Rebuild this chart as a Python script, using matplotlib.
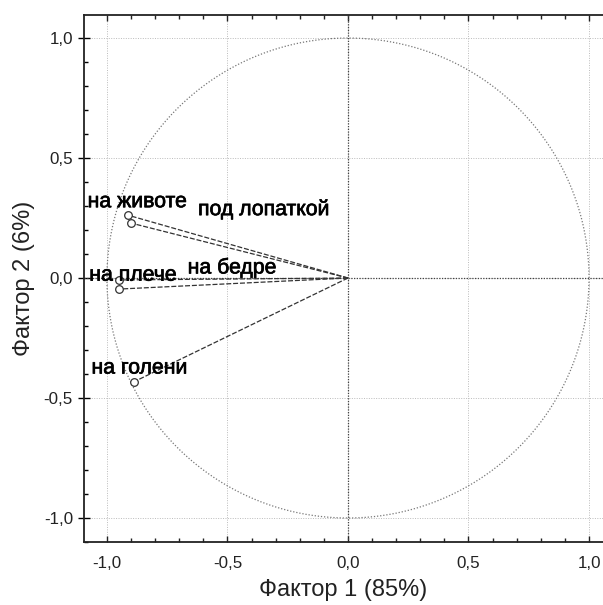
import numpy as np
import matplotlib
matplotlib.use('Agg')
import matplotlib.pyplot as plt
import matplotlib.patheffects as pe
from matplotlib.ticker import MultipleLocator, FuncFormatter

plt.rcParams['font.family'] = ['Liberation Sans', 'DejaVu Sans']

# factor loadings (factor 1, factor 2)
labels = ['на животе', 'под лопаткой', 'на плече', 'на бедре', 'на голени']
f1 = [-0.913, -0.900, -0.949, -0.949, -0.887]
f2 = [0.262, 0.229, -0.008, -0.046, -0.432]
# label anchor positions (left edge, centre) in data units
lab_x = [-1.08, -0.622, -1.073, -0.665, -1.064]
lab_y = [0.318, 0.285, 0.012, 0.042, -0.375]

fig = plt.figure(figsize=(6.03, 6.05), dpi=100)
ax = fig.add_axes([84 / 603, 1 - 542 / 605, 1 - 84 / 603, (542 - 15) / 605])

ax.set_xlim(-1.095, 1.058)
ax.set_ylim(-1.1, 1.096)

# unit circle
t = np.linspace(0, 2 * np.pi, 400)
ax.plot(np.cos(t), np.sin(t), color='#777777', lw=0.9, ls=(0, (1, 1.5)))

# zero lines
ax.axhline(0, color='#444444', lw=0.9, ls=(0, (1, 1.2)))
ax.axvline(0, color='#444444', lw=0.9, ls=(0, (1, 1.2)))

# vectors
for x, y in zip(f1, f2):
    ax.plot([0, x], [0, y], color='#333333', lw=0.9, ls=(0, (4, 1.5)))
ax.plot(f1, f2, 'o', ms=5.5, mfc='white', mec='#333333', mew=0.9, ls='none')

for s, x, y in zip(labels, lab_x, lab_y):
    ax.text(x, y, s, fontsize=15.3, ha='left', va='center', color='black',
            path_effects=[pe.withStroke(linewidth=0.5, foreground='black')])

ax.xaxis.set_major_locator(MultipleLocator(0.5))
ax.yaxis.set_major_locator(MultipleLocator(0.5))
ax.xaxis.set_minor_locator(MultipleLocator(0.1))
ax.yaxis.set_minor_locator(MultipleLocator(0.1))
fmt = FuncFormatter(lambda v, p: f'{v:.1f}'.replace('.', ',').replace('−', '-'))
ax.xaxis.set_major_formatter(fmt)
ax.yaxis.set_major_formatter(fmt)

ax.grid(True, which='major', color='#bbbbbb', lw=0.7, ls=(0, (1, 1.5)))
ax.tick_params(axis='x', which='both', direction='in', top=True, labelsize=12.2,
               colors='#222222', labelcolor='#222222', pad=10)
ax.tick_params(axis='x', which='major', length=4, width=1)
ax.tick_params(axis='x', which='minor', length=3, width=1)
ax.tick_params(axis='y', which='major', direction='inout', length=8, width=1,
               labelsize=12.2, labelcolor='#222222', pad=4)
ax.tick_params(axis='y', which='minor', direction='in', length=3, width=1)

for sp in ['left', 'bottom', 'top']:
    ax.spines[sp].set_linewidth(1.3)
    ax.spines[sp].set_color('#222222')
ax.spines['right'].set_visible(False)

ax.set_xlabel('Фактор 1 (85%)', fontsize=17, color='#222222', labelpad=6)
ax.set_ylabel('Фактор 2 (6%)', fontsize=17, color='#222222', labelpad=6)

fig.savefig('out.png', dpi=100)
